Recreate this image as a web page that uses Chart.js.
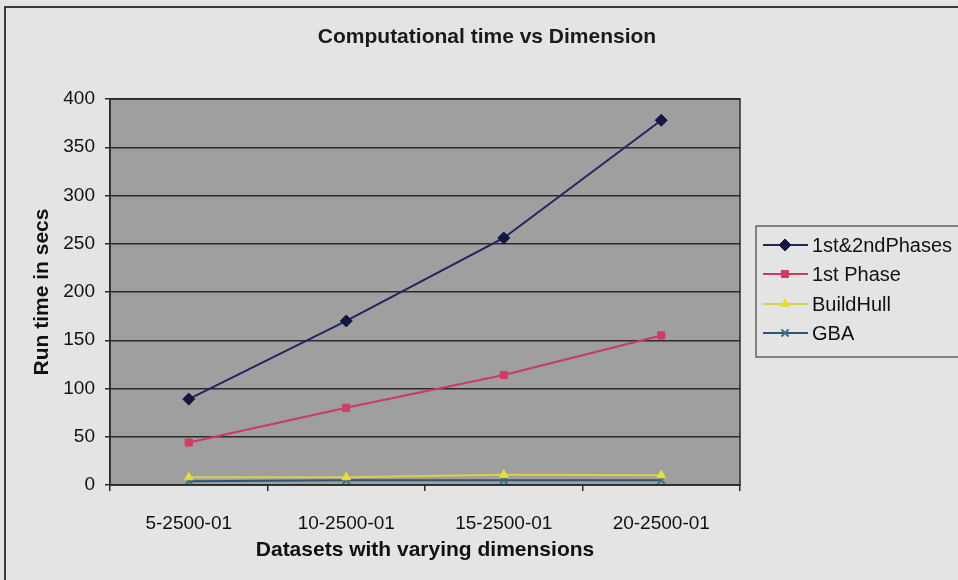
<!DOCTYPE html>
<html>
<head>
<meta charset="utf-8">
<script src="https://cdn.jsdelivr.net/npm/chart.js@4"></script>
<style>
  html, body { margin: 0; padding: 0; background: #e4e4e4; }
  #wrap { width: 958px; height: 580px; position: relative; }
</style>
</head>
<body>
<div id="wrap"><canvas id="chart" width="958" height="580"></canvas></div>
<script>
// Run times (seconds) per dataset
const categories = ['5-2500-01', '10-2500-01', '15-2500-01', '20-2500-01'];
const bothPhases = [89, 170, 256, 378];
const firstPhase = [44, 80, 114, 155];
const buildHull = [8, 8, 10.5, 10];
const gba = [4, 5, 5, 5];
const seriesNames = ['1st&2ndPhases', '1st Phase', 'BuildHull', 'GBA'];
const yTicks = [0, 50, 100, 150, 200, 250, 300, 350, 400];

const FONT = "'Liberation Sans', Arial, sans-serif";

// Background, outer frame, plot border, title and legend
const decorations = {
  id: 'decorations',
  beforeDraw(chart) {
    const { ctx, chartArea: a } = chart;
    ctx.save();
    ctx.fillStyle = '#e4e4e4';
    ctx.fillRect(0, 0, chart.width, chart.height);
    ctx.fillStyle = '#9f9f9f';
    ctx.fillRect(a.left, a.top, a.right - a.left, a.bottom - a.top);
    ctx.restore();
  },
  afterDraw(chart) {
    const { ctx, chartArea: a } = chart;
    ctx.save();
    // outer frame (top and left edges)
    ctx.strokeStyle = '#3a3a3a';
    ctx.lineWidth = 2;
    ctx.beginPath();
    ctx.moveTo(5, 580);
    ctx.lineTo(5, 7);
    ctx.lineTo(958, 7);
    ctx.stroke();

    // plot border
    ctx.strokeStyle = '#2b2b2b';
    ctx.lineWidth = 1.5;
    ctx.strokeRect(a.left, a.top, a.right - a.left, a.bottom - a.top);

    // title
    ctx.fillStyle = '#1a1a1a';
    ctx.font = 'bold 21px ' + FONT;
    ctx.textAlign = 'center';
    ctx.textBaseline = 'middle';
    ctx.fillText('Computational time vs Dimension', 487, 37);

    // legend
    ctx.strokeStyle = '#444';
    ctx.lineWidth = 1.2;
    ctx.strokeRect(756, 226, 230, 131);
    ctx.font = '20px ' + FONT;
    ctx.textAlign = 'left';
    const rowY = [245, 274, 304, 333];
    chart.data.datasets.forEach((ds, i) => {
      const y = rowY[i];
      ctx.strokeStyle = ds.borderColor;
      ctx.lineWidth = 2;
      ctx.beginPath();
      ctx.moveTo(763, y);
      ctx.lineTo(808, y);
      ctx.stroke();
      ctx.fillStyle = ds.pointBackgroundColor;
      ctx.strokeStyle = ds.pointBorderColor;
      ctx.lineWidth = ds.pointBorderWidth || 1;
      Chart.helpers.drawPoint(ctx, {
        pointStyle: ds.pointStyle,
        radius: ds.pointRadius,
        borderWidth: ds.pointBorderWidth || 1,
        rotation: 0
      }, 785, y);
      ctx.fillStyle = '#111';
      ctx.fillText(ds.label, 812, y + 1);
    });
    ctx.restore();
  }
};

new Chart(document.getElementById('chart'), {
  type: 'line',
  data: {
    labels: categories,
    datasets: [
      {
        label: seriesNames[0], data: bothPhases,
        borderColor: '#23245c', borderWidth: 2,
        pointStyle: 'rectRot', pointRadius: 6,
        pointBackgroundColor: '#15163f', pointBorderColor: '#15163f', pointBorderWidth: 1
      },
      {
        label: seriesNames[1], data: firstPhase,
        borderColor: '#c93b63', borderWidth: 2,
        pointStyle: 'rect', pointRadius: 5,
        pointBackgroundColor: '#d23b64', pointBorderColor: '#d23b64', pointBorderWidth: 1
      },
      {
        label: seriesNames[2], data: buildHull,
        borderColor: '#d8cf4a', borderWidth: 2,
        pointStyle: 'triangle', pointRadius: 5,
        pointBackgroundColor: '#e7dd3c', pointBorderColor: '#e7dd3c', pointBorderWidth: 1
      },
      {
        label: seriesNames[3], data: gba,
        borderColor: '#2e5478', borderWidth: 2,
        pointStyle: 'crossRot', pointRadius: 5,
        pointBackgroundColor: '#2f6a6a', pointBorderColor: '#3c6f8f', pointBorderWidth: 2
      }
    ]
  },
  options: {
    responsive: false,
    animation: false,
    layout: { padding: { left: 0, top: 99, right: 218, bottom: 0 } },
    plugins: {
      legend: { display: false },
      title: { display: false },
      tooltip: { enabled: false }
    },
    elements: { line: { tension: 0 } },
    scales: {
      x: {
        type: 'category',
        offset: true,
        grid: {
          display: true, offset: true, drawOnChartArea: false,
          drawTicks: true, tickLength: 6, color: '#2b2b2b', lineWidth: 1.5
        },
        border: { display: true, color: '#2b2b2b', width: 1.5 },
        ticks: {
          color: '#111', font: { family: FONT, size: 19 },
          padding: 21, maxRotation: 0, autoSkip: false
        },
        title: {
          display: true, text: 'Datasets with varying dimensions',
          color: '#111', font: { family: FONT, size: 21, weight: 'bold' },
          padding: { top: 0, bottom: 17 }
        },
        afterFit(scale) { scale.height = 95; }
      },
      y: {
        min: 0, max: 400,
        afterBuildTicks(scale) { scale.ticks = yTicks.map(v => ({ value: v })); },
        grid: {
          display: true, drawOnChartArea: true, drawTicks: true,
          tickLength: 5, color: '#2b2b2b', lineWidth: 1.5
        },
        border: { display: true, color: '#2b2b2b', width: 1.5 },
        ticks: {
          color: '#111', font: { family: FONT, size: 19 }, padding: 10
        },
        title: {
          display: true, text: 'Run time in secs',
          color: '#111', font: { family: FONT, size: 21, weight: 'bold' },
          padding: { top: 30, bottom: 0 }
        },
        afterFit(scale) { scale.width = 110; }
      }
    }
  },
  plugins: [decorations]
});
</script>
</body>
</html>
